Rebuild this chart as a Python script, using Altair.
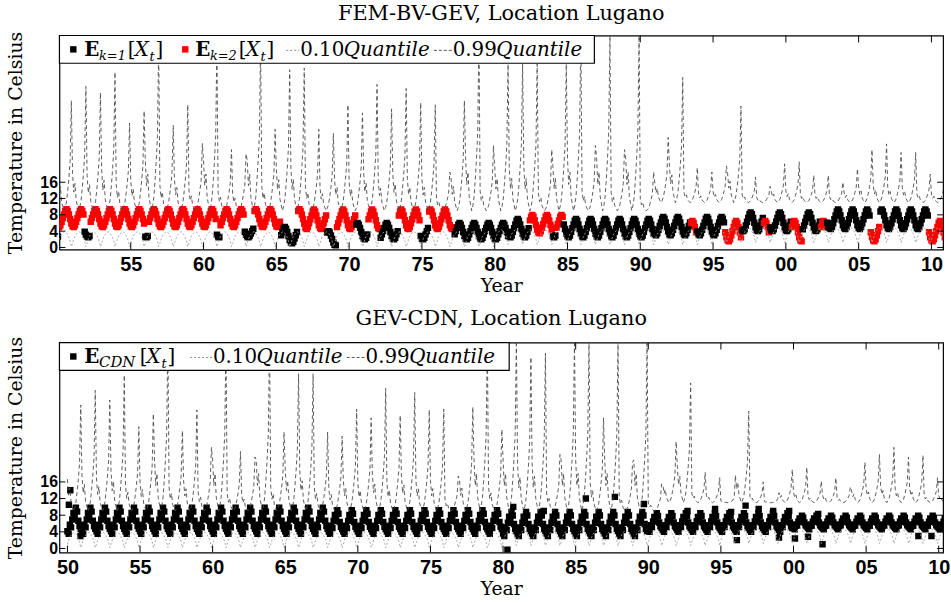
import altair as alt
import pandas as pd

SERIF = "DejaVu Serif"
SANS = "Liberation Sans"

YEARS = list(range(1950, 2011))  # 61 years, monthly samples

# ---------------- top panel: FEM-BV-GEV ----------------
# annual peak (December) of the 0.99 quantile, read per year 1950..2010
TOP_Q99_PEAK = [36, 39.5, 38, 43, 30.5, 33.5, 50, 30, 35, 25.5,
                50, 24, 23, 50, 29, 43.6, 44, 29, 28, 35,
                33, 40, 34, 39, 35.5, 35, 18.5, 36, 52, 25,
                45, 45, 45, 24, 45, 52, 25, 52, 24, 52,
                18.5, 27, 41.7, 19.6, 18.5, 20, 34.7, 17.3, 15, 20.5,
                21, 17.7, 17.7, 16, 19.3, 24, 25.4, 23.3, 23.3, 18, 18]
TOP_Q99_BASE = [9.0] * 41 + [11.0] * 20
Q99_SHAPE = [0.30, 0.15, 0.22, 0.08, 0.04, 0.00, 0.03, 0.08, 0.18, 0.30, 0.45, 1.00]
TOP_Q10_LEVEL = [0.0] * 30 + [0.5] * 15 + [1.0] * 16
Q10_SHAPE = [1.0, 2.0, 2.8, 3.2, 3.6, 3.8, 3.8, 3.5, 3.0, 2.4, 1.6, 0.2]

K1_LO = [2.5] * 15 + [1.0] * 3 + [0.5] * 2 + [2.0] * 11 + [2.5] * 10 + [3.0] * 5 + [4.0] * 7 + [4.5] * 8
K1_HI = [5.5] * 15 + [5.0] * 3 + [4.0] * 2 + [6.0] * 11 + [7.0] * 10 + [7.5] * 5 + [8.6] * 7 + [9.3] * 8
K2_LO = [5.0] * 17 + [4.5] * 11 + [3.5] * 13 + [1.5] * 20
K2_HI = [9.4] * 17 + [9.3] * 11 + [8.0] * 13 + [6.5] * 20
E_SHAPE = [0.05, 0.0, 0.1, 0.3, 0.5, 0.7, 0.9, 1.0, 0.9, 0.7, 0.45, 0.2]
K2_SPANS = [(1950.05, 1951.8), (1952.2, 1956.0), (1956.25, 1960.9), (1961.1, 1962.8),
            (1963.5, 1965.3), (1966.5, 1968.5), (1969.1, 1970.5), (1971.3, 1972.1),
            (1973.4, 1974.9), (1975.5, 1977.2), (1982.4, 1984.0), (1984.2, 1984.7),
            (1993.5, 1993.9), (1995.8, 1997.0), (1998.5, 1998.9), (2000.4, 2001.1),
            (2002.4, 2002.8), (2005.8, 2006.5), (2009.8, 2010.95)]

# ---------------- bottom panel: GEV-CDN ----------------
BOT_Q99_PEAK = [34.5, 38, 35.7, 41.7, 29.3, 32.4, 50, 28.3, 33.3, 24.3,
                50, 23.3, 22, 50, 28, 42, 42, 28, 27, 33.5,
                31.4, 38.5, 32, 37.5, 33.3, 33.5, 17.4, 34, 50, 28.6,
                50, 46, 47, 22.6, 50, 50, 31.4, 50, 20.7, 50,
                15.5, 25.7, 39.8, 18.3, 17, 12.4, 33, 16, 12, 19,
                19.5, 16.2, 17, 14.8, 20.7, 22.6, 24.3, 22, 22.4, 17, 17]
BOT_Q99_BASE = [9.0] * 41 + [11.0] * 20
BOT_Q10_LEVEL = [0.0] * 30 + [0.5] * 15 + [1.0] * 16
CDN_LO = [3.5] * 18 + [3.5] * 12 + [3.0] * 10 + [4.0] * 10 + [4.6] * 11
CDN_HI = [9.8] * 18 + [9.2] * 12 + [8.8] * 10 + [8.5] * 10 + [7.9] * 11
CDN_SHAPE = [0.1, 0.0, 0.35, 0.25, 0.55, 0.8, 0.65, 1.0, 0.85, 0.5, 0.3, 0.2]
CDN_EXTRA_T = [1950.2, 1950.1, 1950.9, 1980.7, 1980.3, 1982.8, 1985.7, 1987.7, 1989.7, 1992.7,
               1994.6, 1995.7, 1996.1, 1996.7, 1997.6, 1998.6, 1999.0, 1999.7, 2000.1, 2001.0,
               2001.7, 2002.0, 2008.6, 2009.5]
CDN_EXTRA_V = [14.0, 10.5, 3.0, 10.0, -0.3, 9.0, 12.0, 12.4, 10.7, 9.0,
               9.5, 8.8, 2.0, 10.3, 9.5, 9.0, 2.6, 9.0, 2.4, 2.8,
               8.3, 1.0, 3.0, 3.0]

X_TICKS_TOP = [1955, 1960, 1965, 1970, 1975, 1980, 1985, 1990, 1995, 2000, 2005, 2010]
X_TICKS_BOT = [1950] + X_TICKS_TOP
Y_TICKS = [0, 4, 8, 12, 16]


def in_spans(t, spans):
    return any(a <= t < b for a, b in spans)


top_pts, top_lines, bot_pts, bot_lines = [], [], [], []
for i, yr in enumerate(YEARS):
    for m in range(12):
        t = yr + m / 12
        k2 = in_spans(t, K2_SPANS)
        lo, hi = (K2_LO[i], K2_HI[i]) if k2 else (K1_LO[i], K1_HI[i])
        top_pts.append({"t": t, "v": lo + (hi - lo) * E_SHAPE[m], "k": "k2" if k2 else "k1"})
        top_lines.append({"t": t,
                          "q99": TOP_Q99_BASE[i] + (TOP_Q99_PEAK[i] - TOP_Q99_BASE[i]) * Q99_SHAPE[m],
                          "q10": TOP_Q10_LEVEL[i] + Q10_SHAPE[m]})
        bot_pts.append({"t": t, "v": CDN_LO[i] + (CDN_HI[i] - CDN_LO[i]) * CDN_SHAPE[m], "k": "cdn"})
        bot_lines.append({"t": t,
                          "q99": BOT_Q99_BASE[i] + (BOT_Q99_PEAK[i] - BOT_Q99_BASE[i]) * Q99_SHAPE[m],
                          "q10": BOT_Q10_LEVEL[i] + Q10_SHAPE[m]})
for t, v in zip(CDN_EXTRA_T, CDN_EXTRA_V):
    bot_pts.append({"t": t, "v": v, "k": "cdn"})

ONE = pd.DataFrame({"a": [0]})
W = 892


def ltext(s, x, y, size=20, style="normal", weight="normal"):
    return alt.Chart(ONE).mark_text(text=s, font=SERIF, fontSize=size, fontStyle=style,
                                    fontWeight=weight, align="left", baseline="alphabetic",
                                    color="black").encode(x=alt.value(x), y=alt.value(y))


def lsquare(x, y, color):
    return alt.Chart(ONE).mark_square(size=42, filled=True, opacity=1, color=color).encode(
        x=alt.value(x), y=alt.value(y))


def ldash(x1, x2, y, color, dash):
    return alt.Chart(ONE).mark_rule(color=color, strokeDash=dash, strokeWidth=1).encode(
        x=alt.value(x1), x2=alt.value(x2), y=alt.value(y))


def lbox(x2):
    return alt.Chart(ONE).mark_rect(fill="white", stroke="black", strokeWidth=1.2).encode(
        x=alt.value(0), x2=alt.value(x2), y=alt.value(0), y2=alt.value(28))


def e_label(x0, sub, sub_size, sub_w):
    xb = x0 + 15 + sub_w
    return [ltext("E", x0, 21, 20, "normal", "bold"),
            ltext(sub, x0 + 15, 25, sub_size, "italic"),
            ltext("[", xb, 21), ltext("X", xb + 7, 21, 20, "italic"),
            ltext("t", xb + 22, 26, 13, "italic"), ltext("]", xb + 28, 21)]


top_legend = [lbox(540), lsquare(14, 14, "black")] + e_label(25, "k=1", 13, 29)
top_legend += [lsquare(127, 14, "#ff0000")] + e_label(137, "k=2", 13, 29)
top_legend += [ldash(229, 242, 15, "#8a8a8a", [2, 2]), ltext("0.10", 243, 21),
               ltext("Quantile", 287, 21, 20, "italic"),
               ldash(378, 396, 15, "#555555", [3, 2]), ltext("0.99", 397, 21),
               ltext("Quantile", 441, 21, 20, "italic")]

bot_legend = [lbox(454), lsquare(14, 14, "black")] + e_label(25, "CDN", 15, 41)
bot_legend += [ldash(132, 154, 15, "#8a8a8a", [2, 2]), ltext("0.10", 155, 21),
               ltext("Quantile", 199, 21, 20, "italic"),
               ldash(290, 308, 15, "#555555", [3, 2]), ltext("0.99", 309, 21),
               ltext("Quantile", 353, 21, 20, "italic")]


def panel(title, pts, lines, xdom, ydom, xticks, H, cdom, crange, legend):
    xs = alt.Scale(domain=xdom, nice=False, zero=False)
    ys = alt.Scale(domain=ydom, nice=False, zero=False)
    xax = alt.Axis(values=xticks, labelExpr="substring(toString(datum.value), 2, 4)")
    yax = alt.Axis(values=Y_TICKS)
    XT, YT = "Year", "Temperature in Celsius"
    p = alt.Chart(pd.DataFrame(pts)).mark_square(size=42, filled=True, opacity=1, clip=True).encode(
        x=alt.X("t:Q", scale=xs, axis=xax, title=XT),
        y=alt.Y("v:Q", scale=ys, axis=yax, title=YT),
        color=alt.Color("k:N", scale=alt.Scale(domain=cdom, range=crange), legend=None))
    ldf = pd.DataFrame(lines)
    q10 = alt.Chart(ldf).mark_line(clip=True, color="#a0a0a0", strokeDash=[2, 2], strokeWidth=0.9).encode(
        x=alt.X("t:Q", title=XT), y=alt.Y("q10:Q", title=YT))
    q99 = alt.Chart(ldf).mark_line(clip=True, color="#4a4a4a", strokeDash=[4, 3], strokeWidth=0.9).encode(
        x=alt.X("t:Q", title=XT), y=alt.Y("q99:Q", title=YT))
    xt = pd.DataFrame({"t": xticks})
    yt = pd.DataFrame({"v": Y_TICKS})
    tb = alt.Chart(xt).mark_rule(color="black", clip=True).encode(
        x=alt.X("t:Q", title=XT), y=alt.value(H), y2=alt.value(H - 7))
    tt = alt.Chart(xt).mark_rule(color="black", clip=True).encode(
        x=alt.X("t:Q", title=XT), y=alt.value(0), y2=alt.value(7))
    tl = alt.Chart(yt).mark_rule(color="black", clip=True).encode(
        y=alt.Y("v:Q", title=YT), x=alt.value(0), x2=alt.value(6))
    tr = alt.Chart(yt).mark_rule(color="black", clip=True).encode(
        y=alt.Y("v:Q", title=YT), x=alt.value(W), x2=alt.value(W - 6))
    return alt.layer(p, q10, q99, tb, tt, tl, tr, *legend).properties(
        width=W, height=H,
        title=alt.TitleParams(text=title, font=SERIF, fontSize=21, fontWeight="normal",
                              color="black", offset=7, anchor="middle"))


top = panel("FEM-BV-GEV, Location Lugano", top_pts, top_lines, [1950.1, 2010.8], [-0.5, 52],
            X_TICKS_TOP, 216, ["k1", "k2"], ["#000000", "#ff0000"], top_legend)
bot = panel("GEV-CDN, Location Lugano", bot_pts, bot_lines, [1949.45, 2010.3], [-1, 49.5],
            X_TICKS_BOT, 212, ["cdn"], ["#000000"], bot_legend)

chart = alt.vconcat(top, bot, spacing=12).properties(
    padding={"left": 6, "top": 0, "right": 0, "bottom": 0}
).configure_view(stroke="black", strokeWidth=1.2).configure_axis(
    grid=False, domain=False, ticks=False, labelOverlap=False, labelBound=False, labelFlush=False,
    labelColor="black", titleColor="black",
    labelFont=SANS, labelFontWeight="bold", titleFont=SERIF, titleFontWeight="normal", titleFontSize=19
).configure_axisX(labelFontSize=20, labelPadding=5, titlePadding=2
).configure_axisY(labelFontSize=16, labelPadding=2, titlePadding=14)

chart.save("out.html", embed_options={"renderer": "svg", "actions": False})
